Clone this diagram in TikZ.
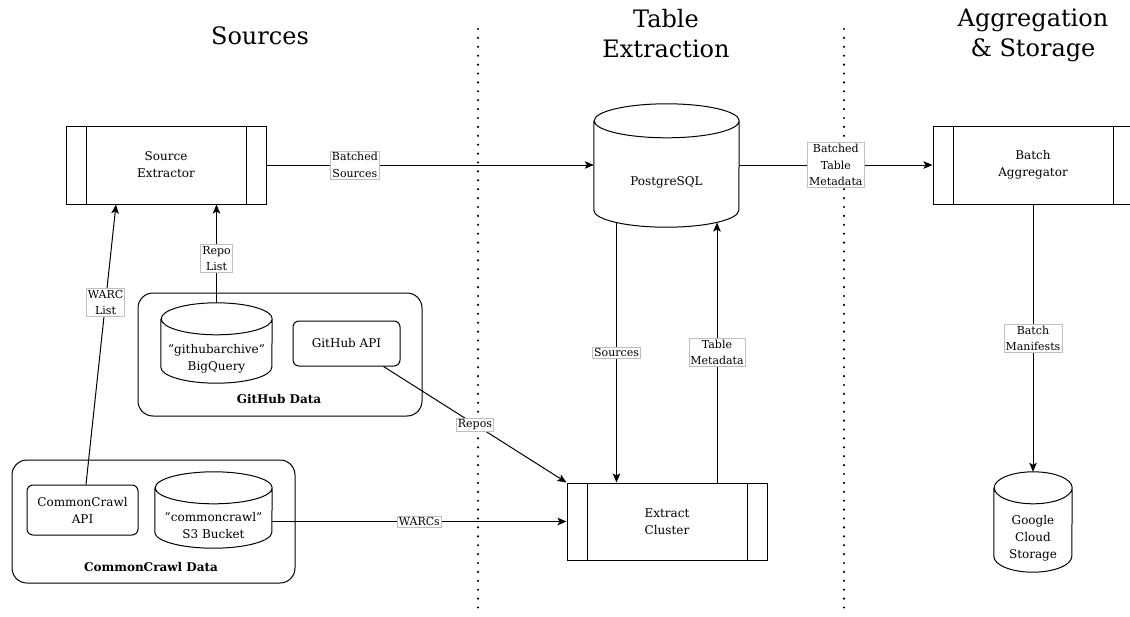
\documentclass[tikz,border=0pt]{standalone}
\usepackage{fontspec}
\setmainfont{DejaVu Serif}
\usetikzlibrary{arrows.meta,calc}
\tikzset{
  x=1pt, y=1pt,
  ln/.style={line width=1pt, draw=black},
  arr/.style={ln, -{Stealth[length=9pt,width=7.5pt,inset=2pt]}},
  body/.style={font=\fontsize{12}{17}\selectfont, align=center, inner sep=0pt},
  procbox/.style={body, draw, line width=1pt, minimum width=200pt, minimum height=78pt,
    path picture={\draw[line width=1pt]
      ([xshift=20pt]path picture bounding box.north west) -- ([xshift=20pt]path picture bounding box.south west)
      ([xshift=-20pt]path picture bounding box.north east) -- ([xshift=-20pt]path picture bounding box.south east);}},
  rbox/.style={body, draw, line width=1pt, rounded corners=6pt},
  group/.style={draw, line width=1pt, rounded corners=15pt, inner sep=0pt},
  grouplabel/.style={font=\bfseries\fontsize{12}{17}\selectfont, inner sep=0pt},
  lbl/.style={fill=white, draw=black!25, line width=0.6pt, inner sep=1.5pt,
    font=\fontsize{11}{16.5}\selectfont, align=center},
  hdr/.style={font=\fontsize{24}{30}\selectfont, align=center, inner sep=0pt},
  sep/.style={line width=2.4pt, dash pattern=on 0pt off 8.9pt, line cap=round},
}
% #1 node name, #2 half width, #3 cap half height
\newcommand\cylshape[3]{%
  \draw[ln] ($(#1.north west)+(0,#3)$) -- ($(#1.south west)+(0,#3)$)
    arc[start angle=180,end angle=360,x radius=#2,y radius=#3]
    -- ($(#1.north east)+(0,#3)$)
    arc[start angle=0,end angle=180,x radius=#2,y radius=#3]
    arc[start angle=180,end angle=360,x radius=#2,y radius=#3];
}
\begin{document}
\begin{tikzpicture}
\useasboundingbox (0,0) rectangle (1130,-616);
\clip (0,0) rectangle (1130,-616);

% column separators
\draw[sep] (478,-29) -- (478,-616);
\draw[sep] (844,-29) -- (844,-616);

% headers
\node[hdr, anchor=base] (hs) at (260,-44) {Sources};
\node[hdr, anchor=north] (ht) at (666,-9) {Table\\Extraction};
\node[hdr, anchor=north] (ha) at (1033,-9) {Aggregation\\\& Storage};

% groups
\node[group, minimum width=284pt, minimum height=123pt] (ghg) at (280,-354.5) {};
\node[grouplabel] (ghl) at (279,-399) {GitHub Data};
\node[group, minimum width=283pt, minimum height=123pt] (ccg) at (153.5,-521.5) {};
\node[grouplabel] (ccl) at (151,-567) {CommonCrawl Data};

% process boxes
\node[procbox] (se) at (166,-165) {Source\\Extractor};
\node[procbox] (ba) at (1033,-165) {Batch\\Aggregator};
\node[procbox, minimum height=77pt] (ec) at (667,-521.5) {Extract\\Cluster};

% rounded boxes
\node[rbox, minimum width=107pt, minimum height=45pt] (gha) at (346.5,-343.5) {GitHub API};
\node[rbox, minimum width=111pt, minimum height=50pt] (cca) at (82.5,-510) {CommonCrawl\\API};

% cylinders (node = body below the top cap)
\node[body, minimum width=145pt, minimum height=89pt] (pg) at (666.5,-182.5) {PostgreSQL};
\cylshape{pg}{72.5}{17}
\node[body, minimum width=111pt, minimum height=48pt] (bq) at (216.5,-359) {"githubarchive"\\BigQuery};
\cylshape{bq}{55.5}{16}
\node[body, minimum width=117pt, minimum height=44pt] (s3) at (213.5,-526) {"commoncrawl"\\S3 Bucket};
\cylshape{s3}{58.5}{16}
\node[body, minimum width=78pt, minimum height=68pt] (gcs) at (1033,-538) {Google\\Cloud\\Storage};
\cylshape{gcs}{39}{16}

% connectors
\draw[arr] (se.east) -- node[lbl, pos=0.27] {Batched\\Sources} (se.east -| pg.west);
\draw[arr] (ba.west -| pg.east) -- node[lbl] {Batched\\Table\\Metadata} (ba.west);
\draw[arr] (ba.south) -- node[lbl] {Batch\\Manifests} ([yshift=32pt]gcs.north);
\draw[arr] ([xshift=-50pt,yshift=4.7pt]pg.south) -- node[lbl] {Sources} ([xshift=-50.5pt]ec.north);
\draw[arr] ([xshift=50pt]ec.north) -- node[lbl] {Table\\Metadata} ([xshift=50.5pt,yshift=4.7pt]pg.south);
\draw[arr] ([xshift=-17pt]gha.south east) -- node[lbl] {Repos} (ec.north west);
\draw[arr] (ec.west -| s3.east) -- node[lbl] {WARCs} (ec.west);
\draw[arr] ([yshift=32pt]bq.north) -- node[lbl, pos=0.45] {Repo\\List} (se.south -| bq.north);
\draw[arr] ([xshift=3.5pt]cca.north) -- node[lbl, pos=0.65] {WARC\\List} ([xshift=-50pt]se.south);
\end{tikzpicture}
\end{document}
